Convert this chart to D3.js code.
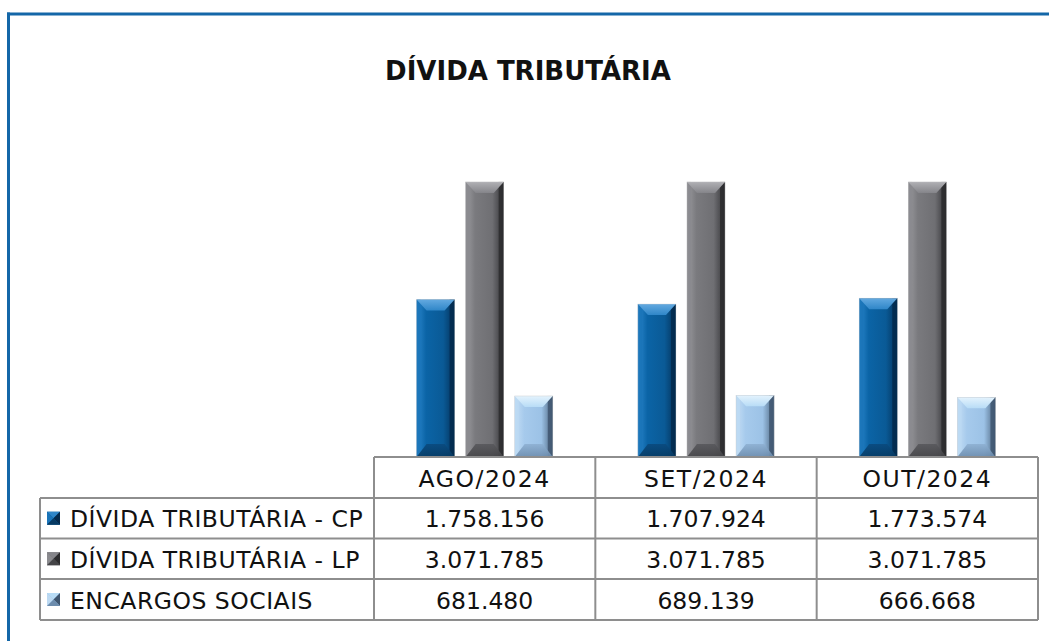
<!DOCTYPE html>
<html>
<head>
<meta charset="utf-8">
<script src="https://cdn.jsdelivr.net/npm/d3@7/dist/d3.min.js"></script>
<style>
  html, body { margin: 0; padding: 0; background: #fff; }
  svg { display: block; }
  text { font-family: "DejaVu Sans", sans-serif; fill: #111; }
</style>
</head>
<body>
<svg id="chart" width="1049" height="641"></svg>
<script>
// ---- data ----
const title = "DÍVIDA TRIBUTÁRIA";
const categories = ["AGO/2024", "SET/2024", "OUT/2024"];
const seriesNames = ["DÍVIDA TRIBUTÁRIA - CP", "DÍVIDA TRIBUTÁRIA - LP", "ENCARGOS SOCIAIS"];
const cpValues = [1758156, 1707924, 1773574];
const lpValues = [3071785, 3071785, 3071785];
const encargosValues = [681480, 689139, 666668];
const yMax = 3500000;

const seriesValues = [cpValues, lpValues, encargosValues];
const fmt = v => d3.format(",")(v).replace(/,/g, ".");

// ---- styles ----
const palettes = [
  { face: ["#2a86cc", "#0b64a6", "#0a5a96", "#04325a"], top: ["#63a9e0", "#2f86c8"], bottom: ["#0a4a7e", "#063a63"], left: "#1a74b8", right: "#042a4c" },
  { face: ["#9a9a9e", "#7a7a7e", "#6f6f73", "#333336"], top: ["#b0b0b4", "#85858a"], bottom: ["#58585c", "#444447"], left: "#8a8a8e", right: "#2c2c2e" },
  { face: ["#c4def5", "#a6caec", "#9cc2e6", "#4d6680"], top: ["#e4f3fd", "#b8dcf6"], bottom: ["#8eb0d2", "#6c8cad"], left: "#bcd9f2", right: "#3f5670" }
];

const svg = d3.select("#chart");
const defs = svg.append("defs");
palettes.forEach((p, i) => {
  const g = defs.append("linearGradient").attr("id", "face" + i).attr("x1", 0).attr("x2", 1).attr("y1", 0).attr("y2", 0);
  g.append("stop").attr("offset", "0%").attr("stop-color", p.face[0]);
  g.append("stop").attr("offset", "25%").attr("stop-color", p.face[1]);
  g.append("stop").attr("offset", "70%").attr("stop-color", p.face[2]);
  g.append("stop").attr("offset", "100%").attr("stop-color", p.face[3]);
  const t = defs.append("linearGradient").attr("id", "top" + i).attr("x1", 0).attr("x2", 0).attr("y1", 0).attr("y2", 1);
  t.append("stop").attr("offset", "0%").attr("stop-color", p.top[0]);
  t.append("stop").attr("offset", "100%").attr("stop-color", p.top[1]);
  const b = defs.append("linearGradient").attr("id", "bot" + i).attr("x1", 0).attr("x2", 0).attr("y1", 0).attr("y2", 1);
  b.append("stop").attr("offset", "0%").attr("stop-color", p.bottom[0]);
  b.append("stop").attr("offset", "100%").attr("stop-color", p.bottom[1]);
});

// ---- frame ----
svg.append("line").attr("x1", 7).attr("x2", 1049).attr("y1", 14).attr("y2", 14)
  .attr("stroke", "#1467a8").attr("stroke-width", 3);
svg.append("line").attr("x1", 8.5).attr("x2", 8.5).attr("y1", 12.5).attr("y2", 641)
  .attr("stroke", "#1467a8").attr("stroke-width", 3);

// ---- title ----
svg.append("text").attr("x", 528).attr("y", 80).attr("text-anchor", "middle")
  .style("font-weight", "bold").style("font-size", "26px").text(title);

// ---- layout ----
const tableLeft = 40, colLeft = 374, colRight = 1038;
const rowTops = [457, 498, 538.5, 579, 620];
const plotBottom = 457, plotTop = 143.6;
const fs = "23.5px";

const x = d3.scaleBand().domain(categories).range([colLeft, colRight]).paddingInner(0).paddingOuter(0);
const xi = d3.scaleBand().domain(d3.range(seriesNames.length)).range([0, x.bandwidth()])
  .paddingInner(11 / 49).paddingOuter(0.867);
const y = d3.scaleLinear().domain([0, yMax]).range([plotBottom, plotTop]);

// ---- bars ----
const barData = [];
categories.forEach((c, ci) => seriesValues.forEach((vals, si) => barData.push({ c, si, v: vals[ci] })));

const bars = svg.append("g").selectAll("g").data(barData).join("g");
bars.each(function (d) {
  const g = d3.select(this);
  const bx = x(d.c) + xi(d.si), bw = xi.bandwidth();
  const by = y(d.v), bh = y(0) - y(d.v);
  const p = palettes[d.si];
  const tb = Math.min(11, bh / 3), bb = Math.min(13, bh / 3), ins = 10, side = 4;
  g.append("rect").attr("x", bx).attr("y", by).attr("width", bw).attr("height", bh).attr("fill", `url(#face${d.si})`);
  g.append("rect").attr("x", bx).attr("y", by).attr("width", side).attr("height", bh).attr("fill", p.left).attr("opacity", 0.8);
  g.append("rect").attr("x", bx + bw - side - 1).attr("y", by).attr("width", side + 1).attr("height", bh).attr("fill", p.right).attr("opacity", 0.85);
  g.append("polygon").attr("points", [[bx, by], [bx + bw, by], [bx + bw - ins, by + tb], [bx + ins, by + tb]].join(" "))
    .attr("fill", `url(#top${d.si})`);
  g.append("polygon").attr("points", [[bx, by + bh], [bx + bw, by + bh], [bx + bw - ins, by + bh - bb], [bx + ins, by + bh - bb]].join(" "))
    .attr("fill", `url(#bot${d.si})`).attr("opacity", 0.9);
  g.append("rect").attr("x", bx).attr("y", by).attr("width", bw).attr("height", bh)
    .attr("fill", "none").attr("stroke", "#c8c8c8").attr("stroke-width", 0.6).attr("stroke-opacity", 0.6);
});

// ---- data table ----
const lineColor = "#8e8e8e";
const tg = svg.append("g");
tg.append("line").attr("x1", colLeft).attr("x2", colRight).attr("y1", rowTops[0]).attr("y2", rowTops[0]).attr("stroke", lineColor).attr("stroke-width", 2);
rowTops.slice(1).forEach(ry => {
  tg.append("line").attr("x1", tableLeft).attr("x2", colRight).attr("y1", ry).attr("y2", ry).attr("stroke", lineColor).attr("stroke-width", 2);
});
tg.append("line").attr("x1", tableLeft).attr("x2", tableLeft).attr("y1", rowTops[1]).attr("y2", rowTops[4]).attr("stroke", lineColor).attr("stroke-width", 2);
[colLeft, ...categories.map(c => x(c) + x.bandwidth())].forEach(vx => {
  tg.append("line").attr("x1", vx).attr("x2", vx).attr("y1", rowTops[0]).attr("y2", rowTops[4]).attr("stroke", lineColor).attr("stroke-width", 2);
});

// header
tg.selectAll("text.hdr").data(categories).join("text").attr("class", "hdr")
  .attr("x", d => x(d) + x.bandwidth() / 2).attr("y", (rowTops[0] + rowTops[1]) / 2 + 9)
  .attr("text-anchor", "middle").style("font-size", fs).style("letter-spacing", "1.5px").text(d => d);

// rows
seriesNames.forEach((name, si) => {
  const cy = (rowTops[si + 1] + rowTops[si + 2]) / 2;
  const p = palettes[si];
  const mx = 47, ms = 13, my = cy - ms / 2;
  tg.append("rect").attr("x", mx).attr("y", my).attr("width", ms).attr("height", ms).attr("fill", p.face[2]);
  tg.append("polygon").attr("points", [[mx, my], [mx + ms, my], [mx + ms / 2, my + ms / 2]].join(" ")).attr("fill", p.top[1]);
  tg.append("polygon").attr("points", [[mx, my], [mx, my + ms], [mx + ms / 2, my + ms / 2]].join(" ")).attr("fill", p.left);
  tg.append("polygon").attr("points", [[mx + ms, my], [mx + ms, my + ms], [mx + ms / 2, my + ms / 2]].join(" ")).attr("fill", p.right);
  tg.append("polygon").attr("points", [[mx, my + ms], [mx + ms, my + ms], [mx + ms / 2, my + ms / 2]].join(" ")).attr("fill", p.bottom[1]);
  tg.append("text").attr("x", 70).attr("y", cy + 9).style("font-size", fs).style("letter-spacing", "0.5px").text(name);
  tg.selectAll(null).data(categories).join("text")
    .attr("x", d => x(d) + x.bandwidth() / 2).attr("y", cy + 9)
    .attr("text-anchor", "middle").style("font-size", fs)
    .text((d, ci) => fmt(seriesValues[si][ci]));
});
</script>
</body>
</html>
